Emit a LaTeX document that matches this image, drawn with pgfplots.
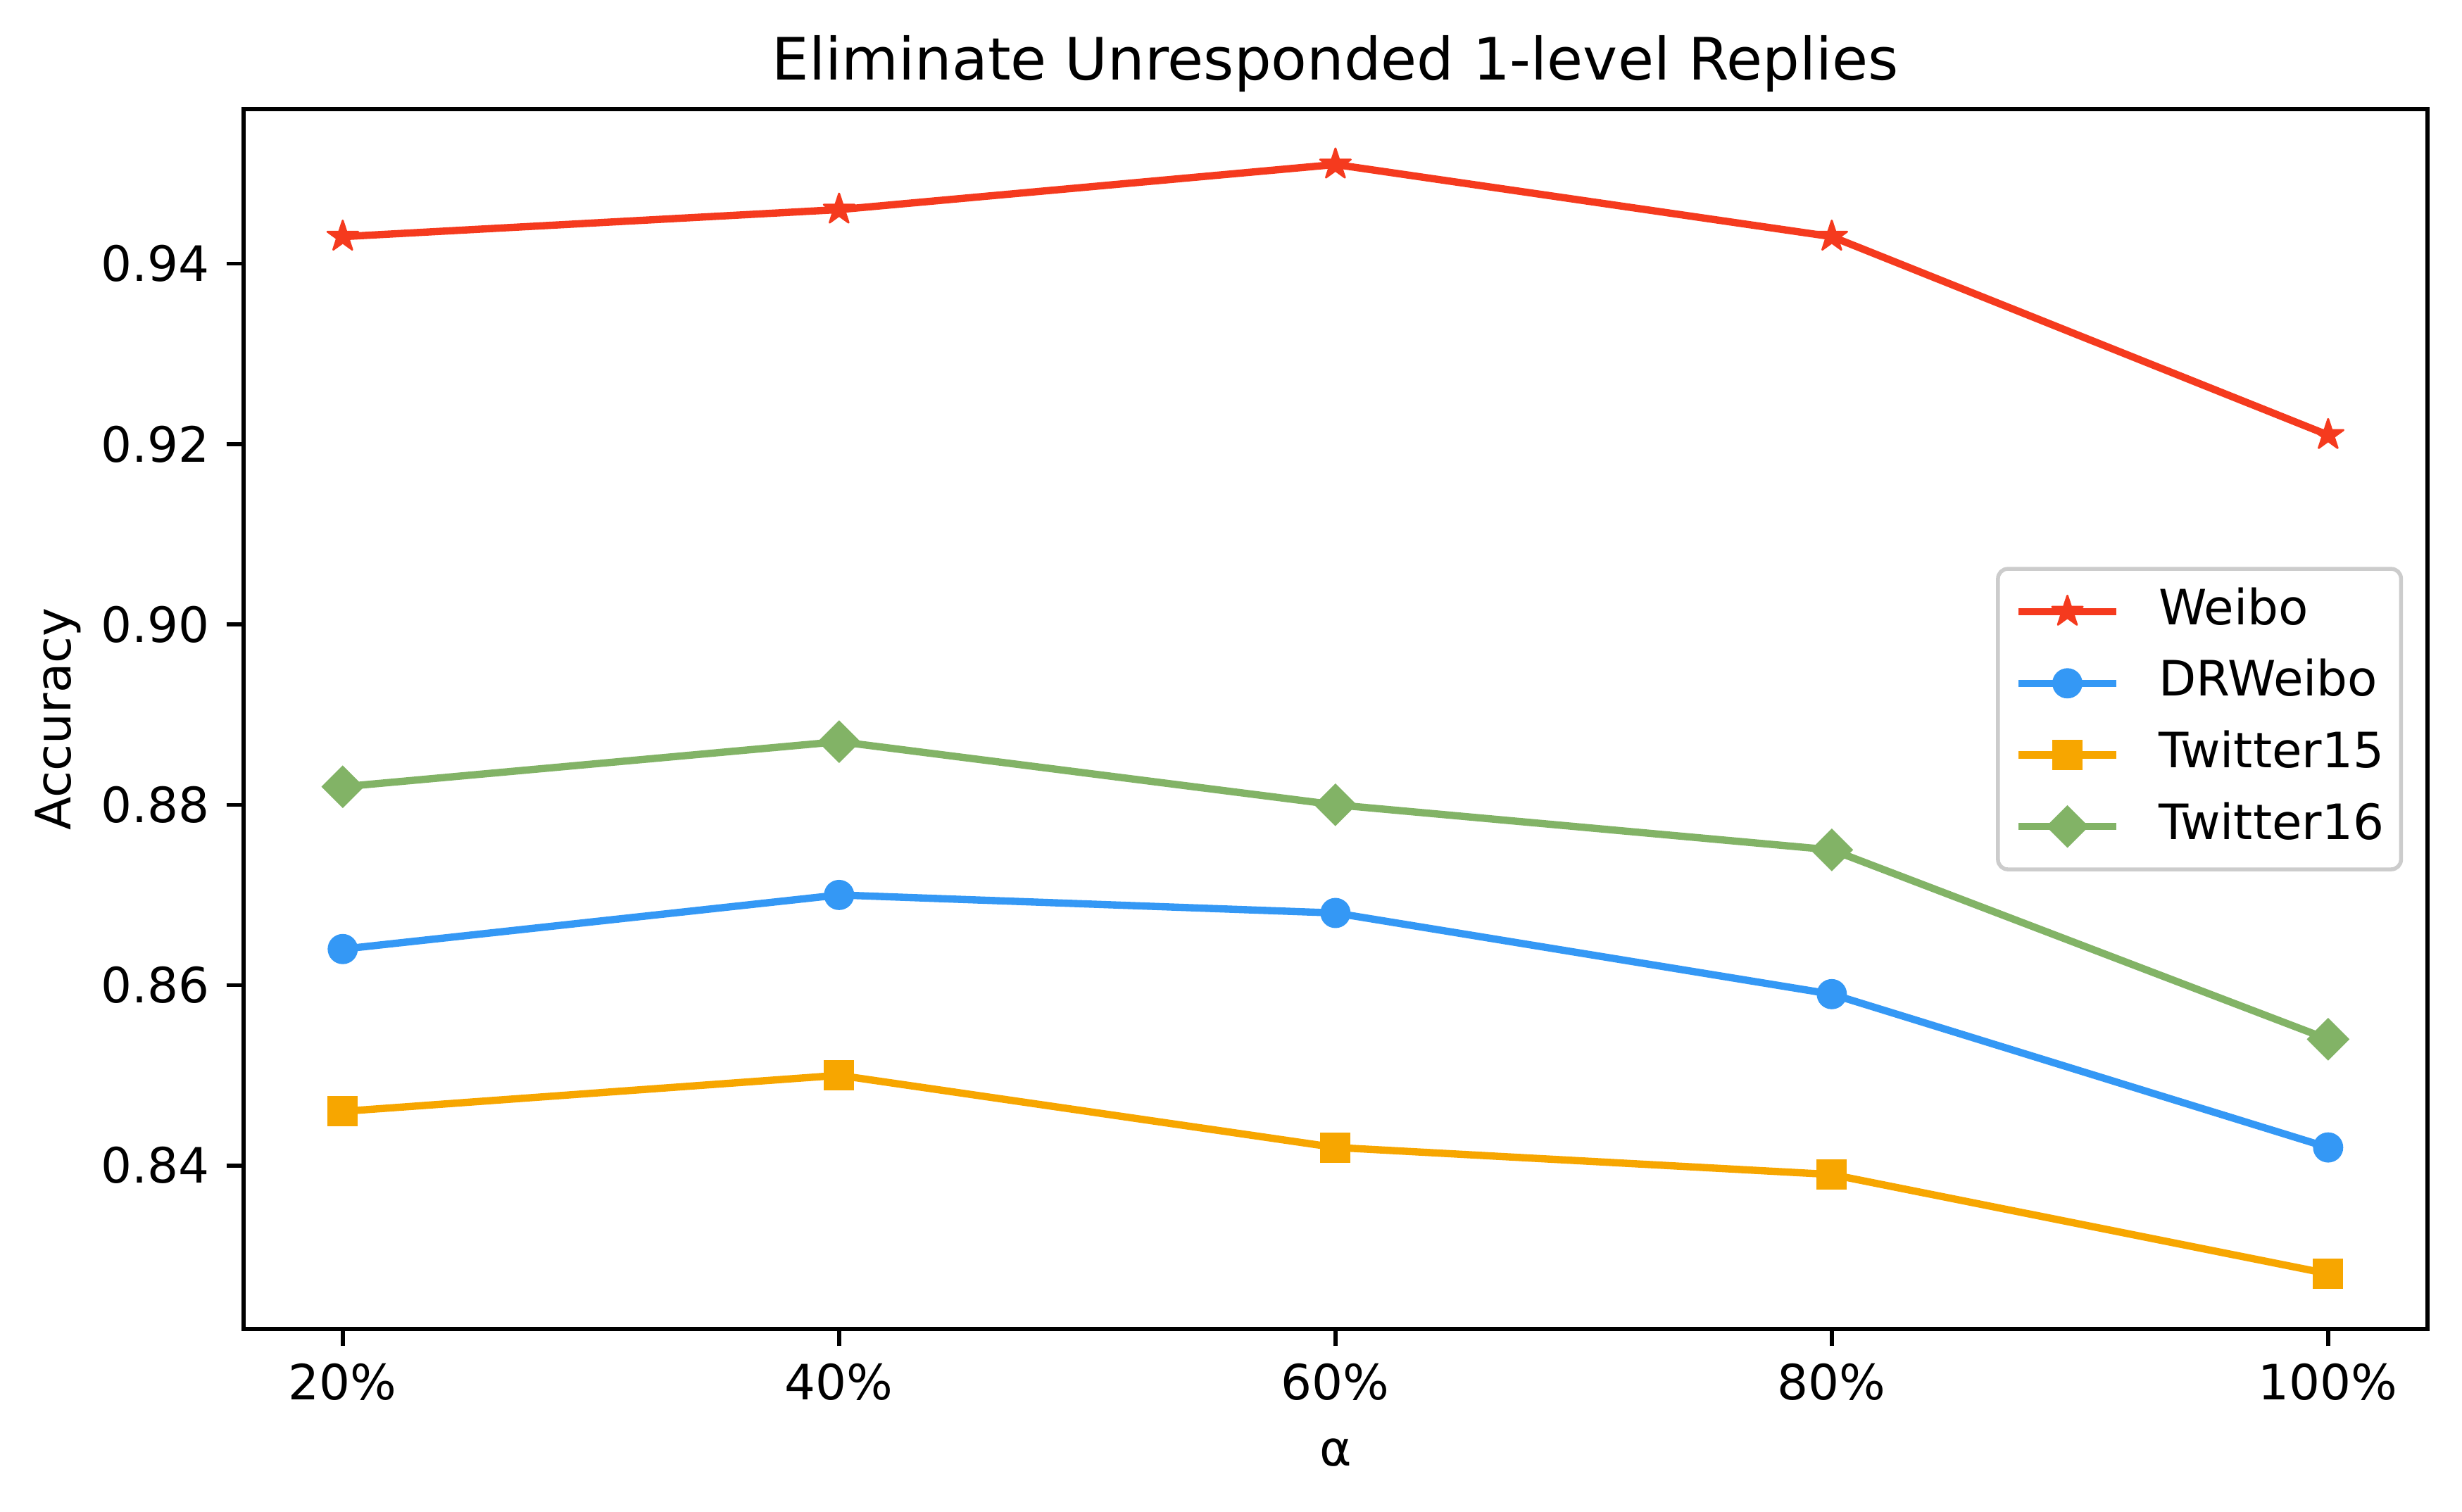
\documentclass[border=0pt]{standalone}
\usepackage{fontspec}
\setmainfont{DejaVu Sans}
\usepackage{pgfplots}
\pgfplotsset{compat=1.18}
\definecolor{cweibo}{RGB}{245,58,30}
\definecolor{cdr}{RGB}{52,152,245}
\definecolor{ct15}{RGB}{247,166,0}
\definecolor{ct16}{RGB}{130,179,102}
\pgfdeclareplotmark{mplstar}{%
  \pgfpathmoveto{\pgfqpointpolar{90}{\pgfplotmarksize}}%
  \pgfpathlineto{\pgfqpointpolar{126}{0.381966\pgfplotmarksize}}%
  \pgfpathlineto{\pgfqpointpolar{162}{\pgfplotmarksize}}%
  \pgfpathlineto{\pgfqpointpolar{198}{0.381966\pgfplotmarksize}}%
  \pgfpathlineto{\pgfqpointpolar{234}{\pgfplotmarksize}}%
  \pgfpathlineto{\pgfqpointpolar{270}{0.381966\pgfplotmarksize}}%
  \pgfpathlineto{\pgfqpointpolar{306}{\pgfplotmarksize}}%
  \pgfpathlineto{\pgfqpointpolar{342}{0.381966\pgfplotmarksize}}%
  \pgfpathlineto{\pgfqpointpolar{18}{\pgfplotmarksize}}%
  \pgfpathlineto{\pgfqpointpolar{54}{0.381966\pgfplotmarksize}}%
  \pgfpathclose
  \pgfusepathqfillstroke}
\begin{document}
\begin{tikzpicture}
\path[use as bounding box] (0,0) rectangle (503.57bp,309.31bp);
\begin{axis}[
  at={(49.8bp,37.4bp)}, anchor=south west,
  scale only axis, width=446.7bp, height=249.6bp,
  xmin=16, xmax=104, ymin=0.82185, ymax=0.95715,
  xtick={20,40,60,80,100},
  xticklabels={20\%,40\%,60\%,80\%,100\%},
  ytick={0.84,0.86,0.88,0.90,0.92,0.94},
  yticklabel style={/pgf/number format/.cd, fixed, fixed zerofill, precision=2},
  /pgf/number format/assume math mode=true,
  tick align=outside, tick pos=left,
  major tick length=3.5pt,
  every tick/.style={black, line width=0.8pt},
  axis line style={line width=0.8pt},
  tick label style={font=\fontsize{10}{12}\selectfont},
  label style={font=\fontsize{10}{12}\selectfont},
  title={Eliminate Unresponded 1-level Replies},
  every axis title/.style={at={(axis description cs:0.5,1)}, anchor=base, yshift=6pt, inner sep=0pt, font=\fontsize{12}{14}\selectfont},
  xlabel={α},
  ylabel={Accuracy},
  every axis x label/.style={at={(axis description cs:0.5,-0.101)}, anchor=center},
  every axis y label/.style={at={(axis description cs:-0.0848,0.5)}, anchor=center, rotate=90},
  legend style={at={(axis description cs:1,0.5)}, anchor=east, xshift=-5bp,
    font=\fontsize{10}{12}\selectfont, draw=black!20, line width=0.8pt,
    rounded corners=2pt, fill=white, fill opacity=0.8, text opacity=1,
    inner xsep=3.5pt, inner ysep=3.8pt, row sep=4.7pt,
    nodes={inner xsep=0pt, inner ysep=0pt, text height=7.6pt, text depth=2.4pt},
    /tikz/every odd column/.append style={column sep=8pt}},
  legend cell align=left,
  legend image code/.code={\draw[mark repeat=2, mark phase=2, fill opacity=1, draw opacity=1] plot coordinates {(0pt,0pt)(10pt,0pt)(20pt,0pt)};},
]
\addplot[cweibo, line width=1.5pt, mark=mplstar, mark size=3.3pt, mark options={line width=0.4pt, line join=round}]
  coordinates {(20,0.943)(40,0.946)(60,0.951)(80,0.943)(100,0.921)};
\addlegendentry{Weibo}
\addplot[cdr, line width=1.5pt, mark=*, mark size=2.9pt, mark options={line width=0.4pt}]
  coordinates {(20,0.864)(40,0.870)(60,0.868)(80,0.859)(100,0.842)};
\addlegendentry{DRWeibo}
\addplot[ct15, line width=1.5pt, mark=square*, mark size=2.9pt, mark options={line width=0.4pt}]
  coordinates {(20,0.846)(40,0.850)(60,0.842)(80,0.839)(100,0.828)};
\addlegendentry{Twitter15}
\addplot[ct16, line width=1.5pt, mark=square*, mark size=2.9pt, mark options={line width=0.4pt, rotate=45}]
  coordinates {(20,0.882)(40,0.887)(60,0.880)(80,0.875)(100,0.854)};
\addlegendentry{Twitter16}
\end{axis}
\end{tikzpicture}
\end{document}
